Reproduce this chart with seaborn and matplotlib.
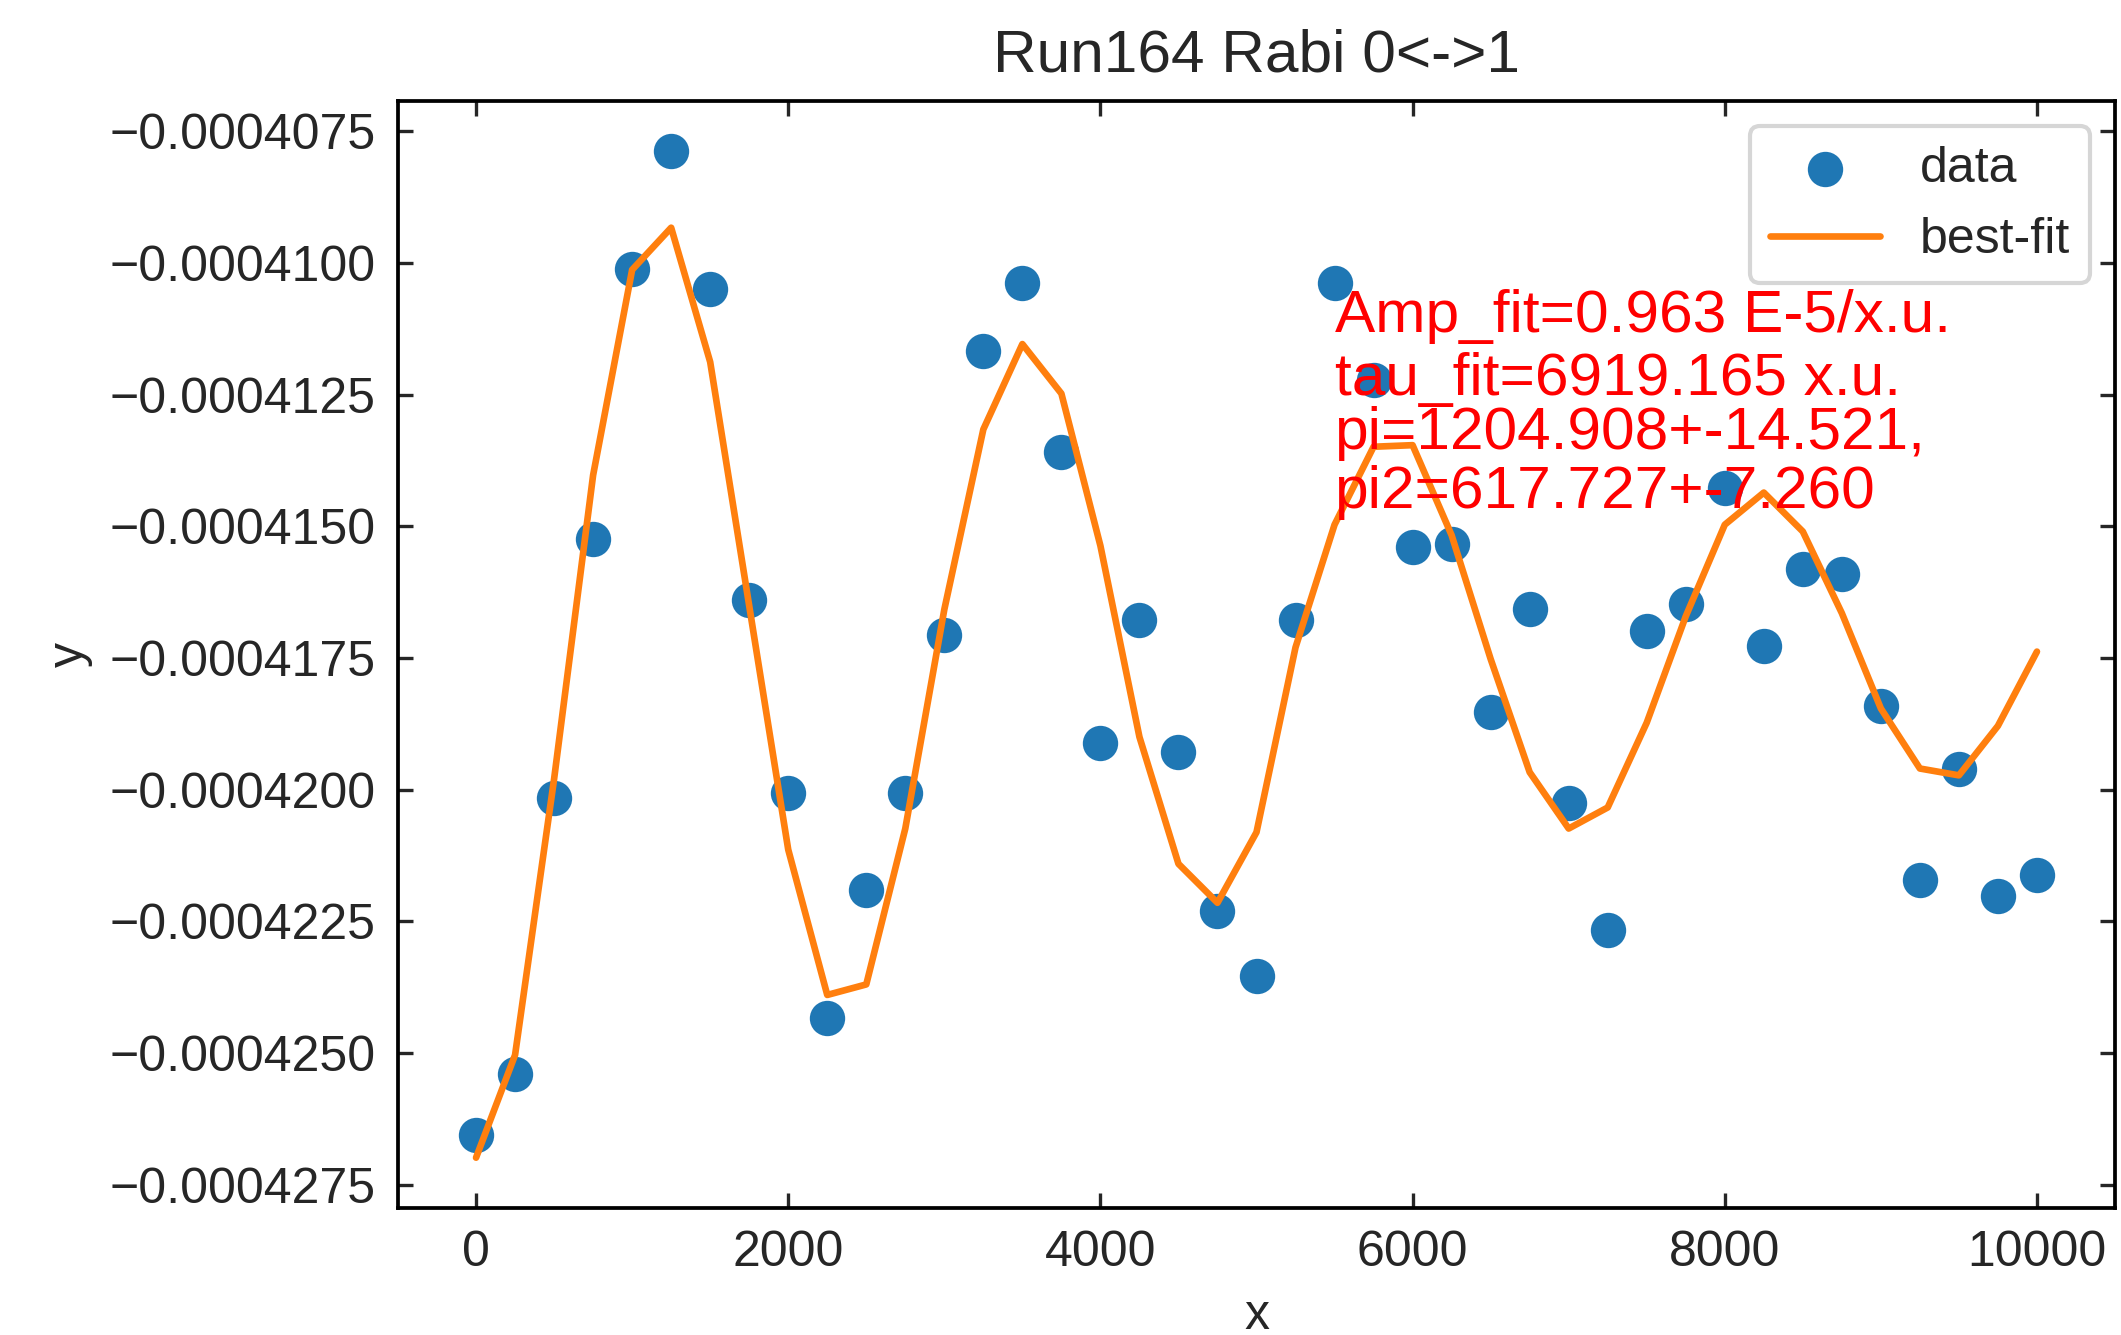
import numpy as np
import pandas as pd
import matplotlib
matplotlib.use("Agg")
import matplotlib.pyplot as plt
import seaborn as sns

# Rabi scan: drive length (x.u.) vs. measured signal, with the damped-cosine fit
x_vals = [0, 250, 500, 750, 1000, 1250, 1500, 1750, 2000, 2250,
          2500, 2750, 3000, 3250, 3500, 3750, 4000, 4250, 4500, 4750,
          5000, 5250, 5500, 5750, 6000, 6250, 6500, 6750, 7000, 7250,
          7500, 7750, 8000, 8250, 8500, 8750, 9000, 9250, 9500, 9750, 10000]

y_data = [-4.2655e-4, -4.2540e-4, -4.2016e-4, -4.1525e-4, -4.1011e-4,
          -4.0788e-4, -4.1049e-4, -4.1640e-4, -4.2006e-4, -4.2433e-4,
          -4.2190e-4, -4.2006e-4, -4.1706e-4, -4.1167e-4, -4.1039e-4,
          -4.1359e-4, -4.1911e-4, -4.1678e-4, -4.1929e-4, -4.2231e-4,
          -4.2354e-4, -4.1678e-4, -4.1039e-4, -4.1223e-4, -4.1540e-4,
          -4.1533e-4, -4.1852e-4, -4.1658e-4, -4.2026e-4, -4.2267e-4,
          -4.1699e-4, -4.1648e-4, -4.1428e-4, -4.1727e-4, -4.1581e-4,
          -4.1591e-4, -4.1842e-4, -4.2172e-4, -4.1960e-4, -4.2202e-4,
          -4.2162e-4]

y_fit = [-4.2699e-4, -4.2504e-4, -4.1980e-4, -4.1403e-4, -4.1013e-4,
         -4.0933e-4, -4.1188e-4, -4.1651e-4, -4.2114e-4, -4.2390e-4,
         -4.2370e-4, -4.2074e-4, -4.1658e-4, -4.1316e-4, -4.1154e-4,
         -4.1248e-4, -4.1537e-4, -4.1900e-4, -4.2141e-4, -4.2215e-4,
         -4.2081e-4, -4.1730e-4, -4.1497e-4, -4.1349e-4, -4.1346e-4,
         -4.1517e-4, -4.1752e-4, -4.1967e-4, -4.2074e-4, -4.2034e-4,
         -4.1873e-4, -4.1671e-4, -4.1497e-4, -4.1436e-4, -4.1510e-4,
         -4.1665e-4, -4.1846e-4, -4.1960e-4, -4.1973e-4, -4.1879e-4,
         -4.1738e-4]

title = "Run164 Rabi 0<->1"
fit_lines = ["Amp_fit=0.963 E-5/x.u.",
             "tau_fit=6919.165 x.u.",
             "pi=1204.908+-14.521,",
             "pi2=617.727+-7.260"]
fit_text_y = [-4.1131e-4, -4.1251e-4, -4.1354e-4, -4.1466e-4]
fit_text_x = 5500

df = pd.DataFrame({"x": x_vals, "y": y_data, "fit": y_fit})

sns.set_style("ticks", {
    "xtick.direction": "in",
    "ytick.direction": "in",
    "xtick.top": True,
    "ytick.right": True,
    "axes.edgecolor": "black",
})
plt.rcParams["font.family"] = ["Liberation Sans", "DejaVu Sans"]
plt.rcParams["font.size"] = 12

fig = plt.figure(figsize=(2121 / 300, 1335 / 300), dpi=300)
ax = fig.add_axes([398 / 2121, 1 - 1208 / 1335,
                   (2115 - 398) / 2121, (1208 - 101) / 1335])

sns.scatterplot(data=df, x="x", y="y", ax=ax, color="#1f77b4",
                s=72, linewidth=0, label="data", zorder=2)
sns.lineplot(data=df, x="x", y="fit", ax=ax, color="#ff7f0e",
             linewidth=1.6, label="best-fit", zorder=3)

for label, ty in zip(fit_lines, fit_text_y):
    ax.text(fit_text_x, ty, label, color="red", fontsize=14.5,
            ha="left", va="baseline", zorder=4)

ax.set_title(title, fontsize=14.5, color="0.15", pad=7)
ax.set_xlabel("x", fontsize=12, color="0.15")
ax.set_ylabel("y", fontsize=12, color="0.15")
ax.tick_params(axis="both", labelsize=12, pad=5.3, length=3.5,
               width=0.8, colors="0.15")
for sp in ax.spines.values():
    sp.set_linewidth(0.9)
    sp.set_color("black")

ax.legend(loc="upper right", fontsize=12, handlelength=2.2,
          handletextpad=0.8, frameon=True, fancybox=True,
          edgecolor="0.8", framealpha=0.8)

fig.savefig("out.png", dpi=300)
